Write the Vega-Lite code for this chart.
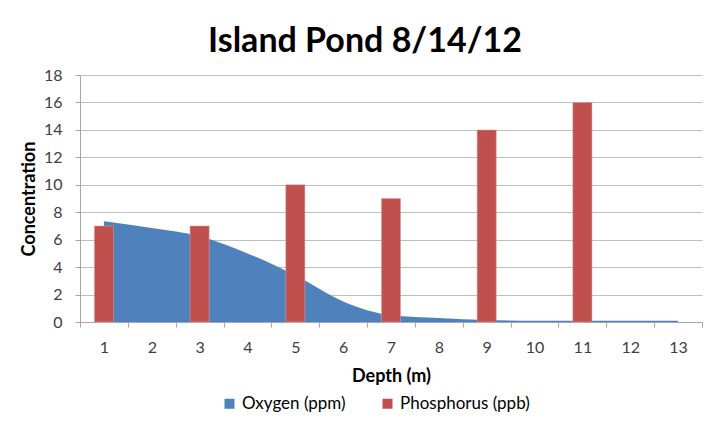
{
  "$schema": "https://vega.github.io/schema/vega-lite/v6.json",
  "width": 622,
  "height": 247,
  "autosize": "none",
  "padding": {"left": 80, "top": 75, "right": 14, "bottom": 114},
  "background": "white",
  "title": {
    "text": "Island Pond 8/14/12",
    "font": "Lato",
    "fontSize": 34,
    "fontWeight": "bold",
    "color": "#000000",
    "anchor": "middle",
    "offset": 8,
    "dx": -26
  },
  "data": {
    "values": [
      {"depth": 1, "series": "Oxygen (ppm)", "value": 7.35},
      {"depth": 2, "series": "Oxygen (ppm)", "value": 6.85},
      {"depth": 3, "series": "Oxygen (ppm)", "value": 6.25},
      {"depth": 4, "series": "Oxygen (ppm)", "value": 5.0},
      {"depth": 5, "series": "Oxygen (ppm)", "value": 3.4},
      {"depth": 6, "series": "Oxygen (ppm)", "value": 1.5},
      {"depth": 7, "series": "Oxygen (ppm)", "value": 0.5},
      {"depth": 8, "series": "Oxygen (ppm)", "value": 0.3},
      {"depth": 9, "series": "Oxygen (ppm)", "value": 0.15},
      {"depth": 10, "series": "Oxygen (ppm)", "value": 0.1},
      {"depth": 11, "series": "Oxygen (ppm)", "value": 0.1},
      {"depth": 12, "series": "Oxygen (ppm)", "value": 0.1},
      {"depth": 13, "series": "Oxygen (ppm)", "value": 0.1},
      {"depth": 1, "series": "Phosphorus (ppb)", "value": 7},
      {"depth": 3, "series": "Phosphorus (ppb)", "value": 7},
      {"depth": 5, "series": "Phosphorus (ppb)", "value": 10},
      {"depth": 7, "series": "Phosphorus (ppb)", "value": 9},
      {"depth": 9, "series": "Phosphorus (ppb)", "value": 14},
      {"depth": 11, "series": "Phosphorus (ppb)", "value": 16}
    ]
  },
  "encoding": {
    "x": {
      "field": "depth",
      "type": "ordinal",
      "scale": {"domain": [1,2,3,4,5,6,7,8,9,10,11,12,13], "paddingInner": 0, "paddingOuter": 0},
      "axis": {
        "title": "Depth (m)",
        "labelAngle": 0,
        "tickBand": "extent",
        "grid": false,
        "domainColor": "#a6a6a6",
        "tickColor": "#a6a6a6",
        "tickSize": 5,
        "labelFont": "Lato",
        "labelFontSize": 16,
        "labelColor": "#404040",
        "labelPadding": 12,
        "titleFont": "Lato",
        "titleFontSize": 18,
        "titleFontWeight": "bold",
        "titleColor": "#000000",
        "titlePadding": 12
      }
    },
    "y": {
      "field": "value",
      "type": "quantitative",
      "scale": {"domain": [0, 18], "nice": false},
      "axis": {
        "title": "Concentration",
        "values": [0,2,4,6,8,10,12,14,16,18],
        "gridColor": "#bfbfbf",
        "domainColor": "#a6a6a6",
        "tickColor": "#a6a6a6",
        "tickSize": 5,
        "labelFont": "Lato",
        "labelFontSize": 16,
        "labelColor": "#404040",
        "labelPadding": 13,
        "titleFont": "Lato",
        "titleFontSize": 18,
        "titleFontWeight": "bold",
        "titleColor": "#000000",
        "titlePadding": 5
      }
    },
    "color": {
      "field": "series",
      "type": "nominal",
      "scale": {"domain": ["Oxygen (ppm)", "Phosphorus (ppb)"], "range": ["#4F81BD", "#C0504D"]},
      "legend": {
        "title": null,
        "orient": "none",
        "legendX": 141,
        "legendY": 320,
        "direction": "horizontal",
        "symbolType": "square",
        "symbolSize": 100,
        "symbolStrokeWidth": 0,
        "symbolOpacity": 1,
        "labelFont": "Lato",
        "labelFontSize": 17,
        "labelColor": "#000000",
        "labelOffset": 4,
        "columnPadding": 33
      }
    }
  },
  "layer": [
    {
      "transform": [{"filter": "datum.series == 'Oxygen (ppm)'"}],
      "mark": {"type": "area", "interpolate": "monotone", "opacity": 1}
    },
    {
      "transform": [{"filter": "datum.series == 'Phosphorus (ppb)'"}],
      "mark": {"type": "bar", "width": {"band": 0.4}, "stroke": "#e8a0a0", "strokeWidth": 0.5}
    }
  ],
  "config": {"view": {"stroke": null}}
}
